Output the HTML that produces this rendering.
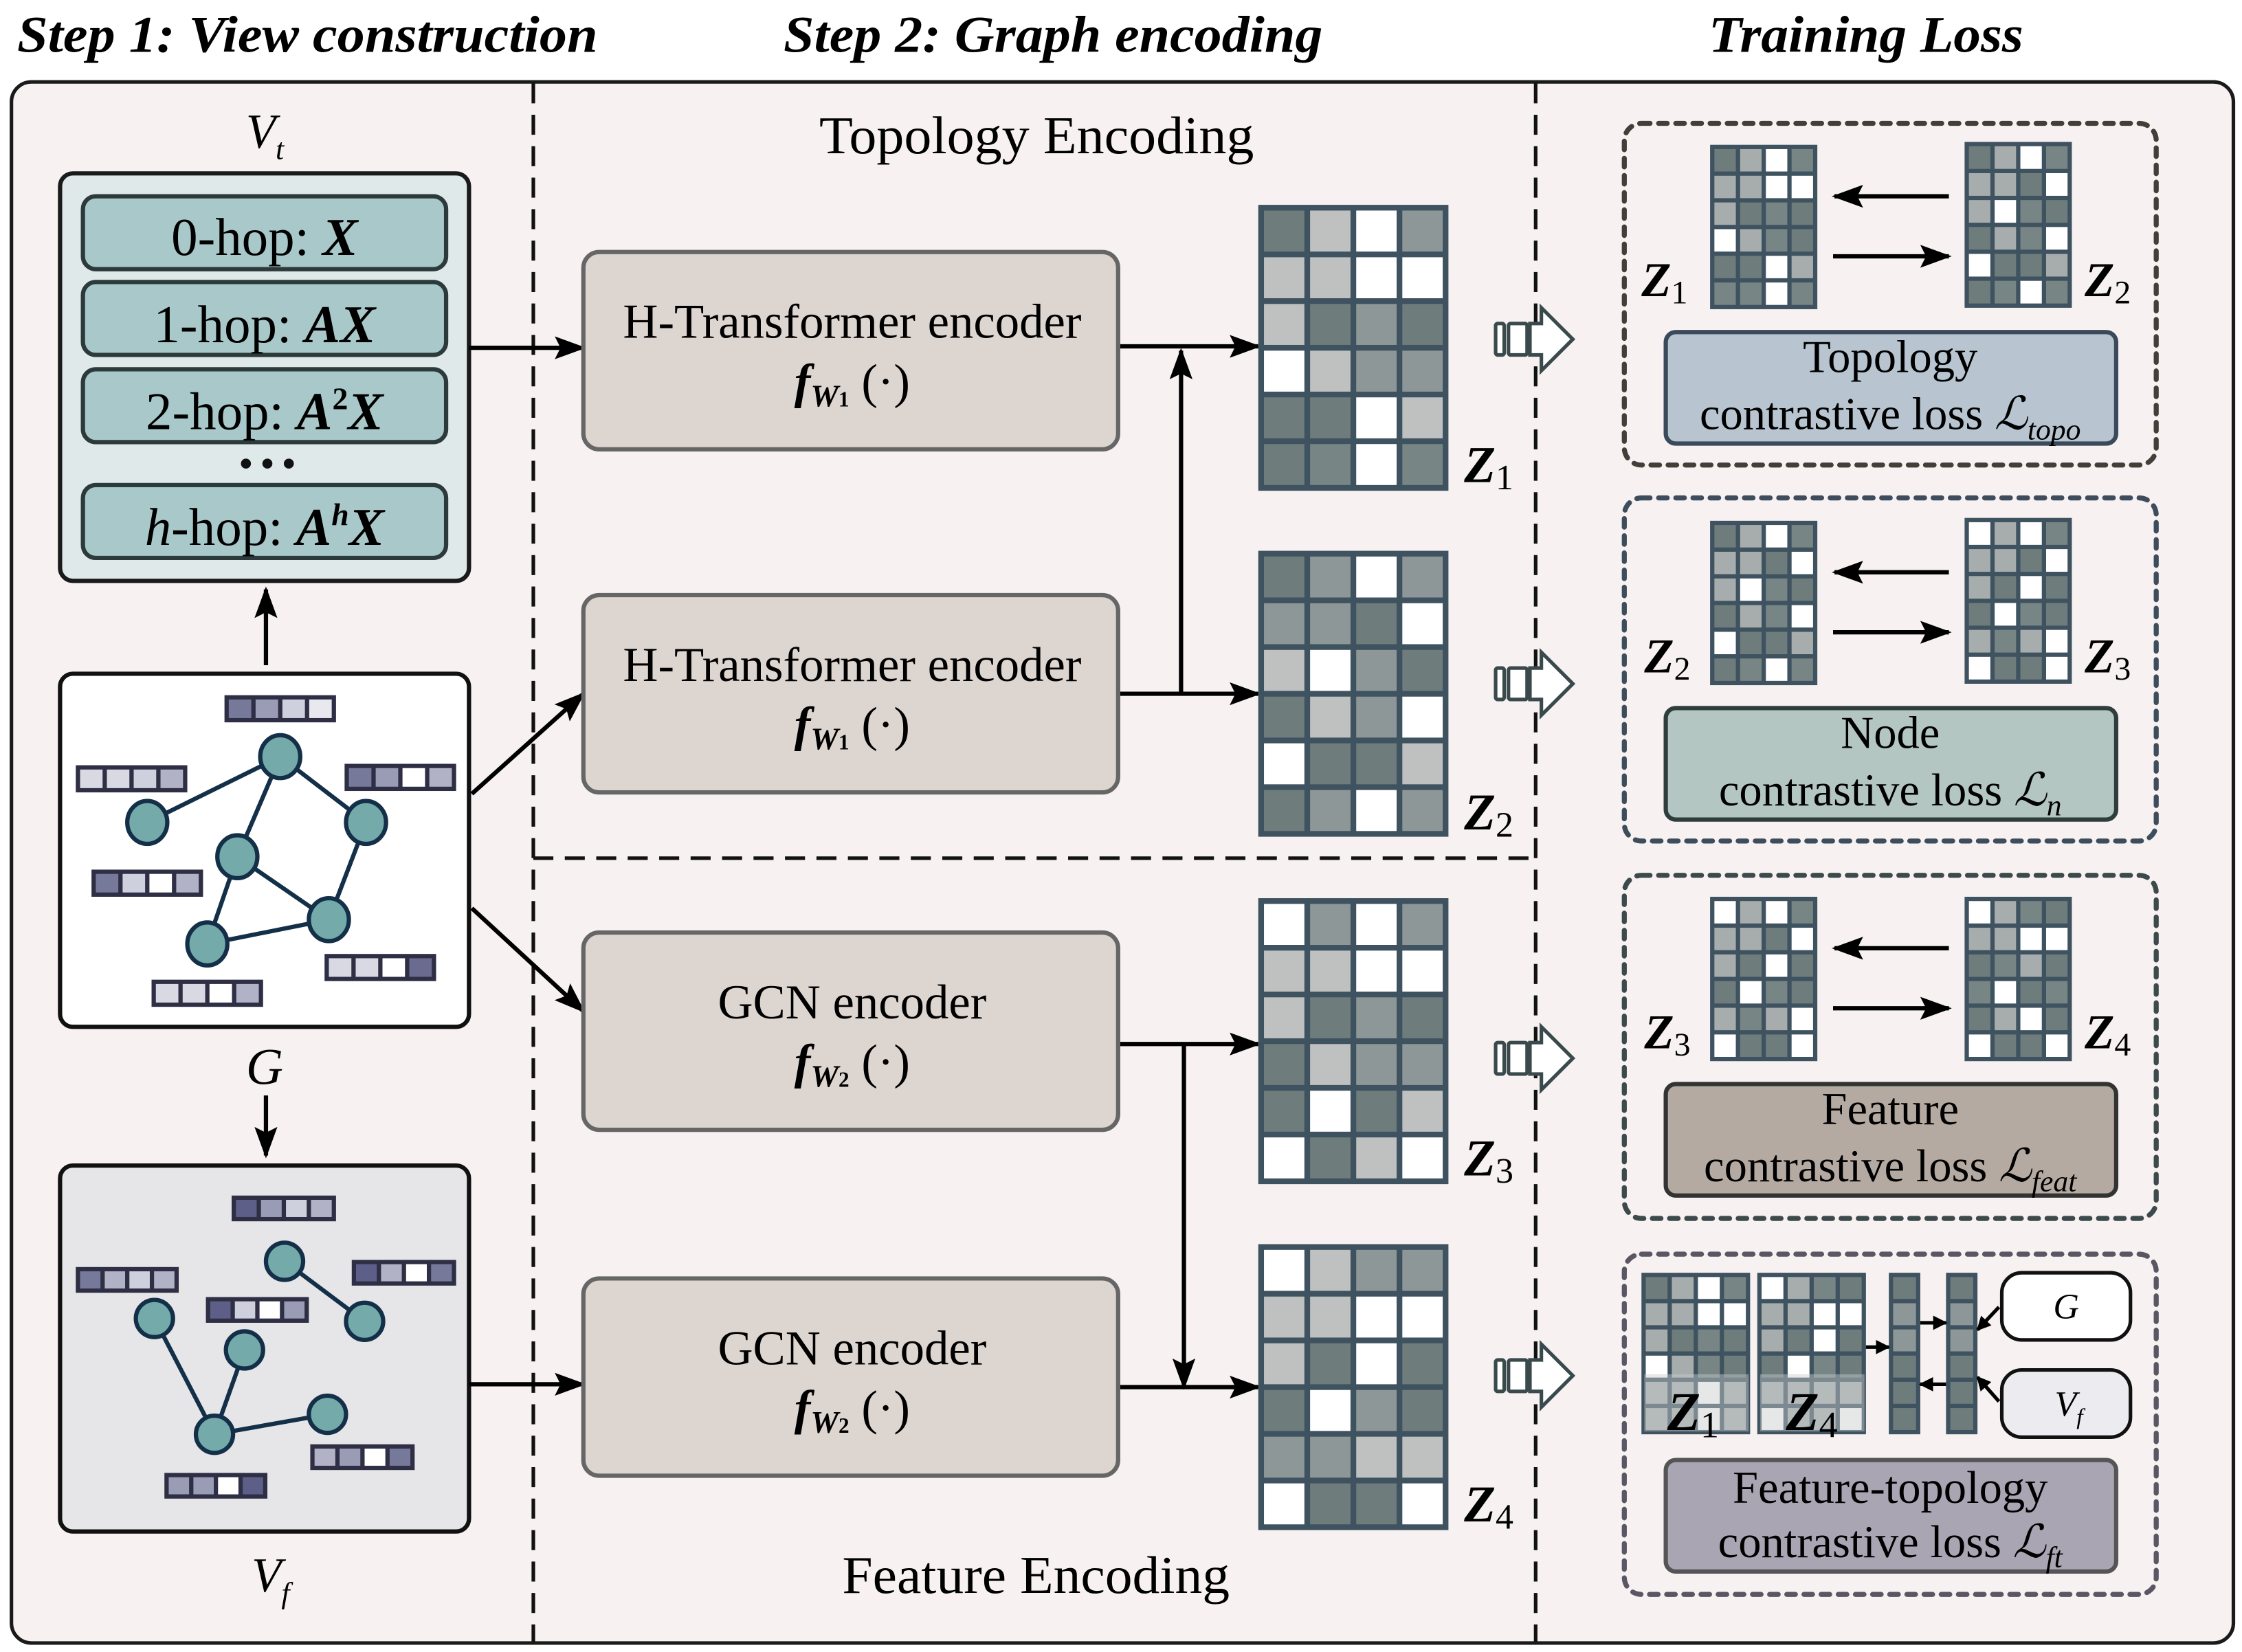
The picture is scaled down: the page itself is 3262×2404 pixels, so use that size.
<!DOCTYPE html>
<html><head><meta charset="utf-8">
<style>
html,body{margin:0;padding:0;background:#fff;}
svg{display:block;}
text{font-family:"Liberation Serif",serif;}
</style></head>
<body>
<svg id="s" width="3262" height="2404" viewBox="0 0 1568 1155" xmlns="http://www.w3.org/2000/svg">
<defs>
<marker id="ah" markerWidth="10" markerHeight="10" refX="9" refY="5" orient="auto" markerUnits="userSpaceOnUse" viewBox="0 0 10 10">
<path d="M0,0 L10,5 L0,10 z" fill="#000"/>
</marker>
<marker id="ahb" markerWidth="22" markerHeight="16" refX="20" refY="8" orient="auto" markerUnits="userSpaceOnUse" viewBox="0 0 22 16">
<path d="M0,0 L22,8 L0,16 L4,8 z" fill="#000"/>
</marker>
</defs>
<rect width="1568" height="1155" fill="#fff"/>
<g font-weight="bold" font-style="italic" font-size="36" fill="#000">
<text x="12" y="36" textLength="406" lengthAdjust="spacingAndGlyphs">Step 1: View construction</text>
<text x="548" y="36" textLength="377" lengthAdjust="spacingAndGlyphs">Step 2: Graph encoding</text>
<text x="1195" y="36" textLength="220" lengthAdjust="spacingAndGlyphs">Training Loss</text>
</g>
<rect x="8" y="57" width="1554" height="1092" rx="14" fill="#f7f1f1" stroke="#1a1a1a" stroke-width="2.5"/>
<g stroke="#111" stroke-width="2.5" stroke-dasharray="14,8">
<line x1="373" y1="58" x2="373" y2="1148"/>
<line x1="1074" y1="58" x2="1074" y2="1148"/>
<line x1="373" y1="600" x2="1074" y2="600"/>
</g>
<text x="573" y="107" font-size="37" textLength="304" lengthAdjust="spacingAndGlyphs">Topology Encoding</text>
<text x="589" y="1114" font-size="37" textLength="271" lengthAdjust="spacingAndGlyphs">Feature Encoding</text>

<text x="172" y="103" font-size="34" font-style="italic">V<tspan font-size="21" dy="8">t</tspan></text>
<rect x="42" y="121" width="286" height="285" rx="9" fill="#dfe9ea" stroke="#1a1a1a" stroke-width="3"/>
<g fill="#a9c8c9" stroke="#2c3a3c" stroke-width="3">
<rect x="58" y="137" width="254" height="51" rx="9"/>
<rect x="58" y="197" width="254" height="51" rx="9"/>
<rect x="58" y="258" width="254" height="51" rx="9"/>
<rect x="58" y="339" width="254" height="51" rx="9"/>
</g>
<g font-size="37" text-anchor="middle">
<text x="185" y="178">0-hop: <tspan font-weight="bold" font-style="italic">X</tspan></text>
<text x="185" y="239">1-hop: <tspan font-weight="bold" font-style="italic">AX</tspan></text>
<text x="185" y="300">2-hop: <tspan font-weight="bold" font-style="italic">A</tspan><tspan font-weight="bold" font-size="22" dy="-14">2</tspan><tspan font-weight="bold" font-style="italic" dy="14">X</tspan></text>
<text x="185" y="381"><tspan font-style="italic">h</tspan>-hop: <tspan font-weight="bold" font-style="italic">A</tspan><tspan font-weight="bold" font-style="italic" font-size="22" dy="-14">h</tspan><tspan font-weight="bold" font-style="italic" dy="14">X</tspan></text>
</g>
<g fill="#111"><circle cx="172" cy="324" r="3.5"/><circle cx="187" cy="324" r="3.5"/><circle cx="202" cy="324" r="3.5"/></g>

<rect x="42" y="471" width="286" height="247" rx="9" fill="#fff" stroke="#111" stroke-width="3"/>
<g stroke="#143049" stroke-width="3">
<line x1="196" y1="529" x2="103" y2="575"/><line x1="196" y1="529" x2="166" y2="599"/>
<line x1="196" y1="529" x2="256" y2="575"/><line x1="256" y1="575" x2="230" y2="643"/>
<line x1="166" y1="599" x2="230" y2="643"/><line x1="166" y1="599" x2="145" y2="660"/>
<line x1="145" y1="660" x2="230" y2="643"/>
</g>
<g fill="#75aaaa" stroke="#143049" stroke-width="3">
<ellipse cx="196" cy="529" rx="14" ry="15"/><ellipse cx="103" cy="575" rx="14" ry="15"/>
<ellipse cx="256" cy="575" rx="14" ry="15"/><ellipse cx="166" cy="599" rx="14" ry="15"/>
<ellipse cx="230" cy="643" rx="14" ry="15"/><ellipse cx="145" cy="660" rx="14" ry="15"/>
</g>
<text x="172" y="758" font-size="36" font-style="italic">G</text>

<rect x="42" y="815" width="286" height="256" rx="9" fill="#e6e6e8" stroke="#111" stroke-width="3"/>
<g stroke="#143049" stroke-width="3">
<line x1="199" y1="882" x2="255" y2="924"/><line x1="108" y1="922" x2="150" y2="1003"/>
<line x1="171" y1="944" x2="150" y2="1003"/><line x1="150" y1="1003" x2="229" y2="989"/>
</g>
<g fill="#75aaaa" stroke="#143049" stroke-width="3">
<ellipse cx="199" cy="882" rx="13" ry="13"/><ellipse cx="108" cy="922" rx="13" ry="13"/>
<ellipse cx="255" cy="924" rx="13" ry="13"/><ellipse cx="171" cy="944" rx="13" ry="13"/>
<ellipse cx="150" cy="1003" rx="13" ry="13"/><ellipse cx="229" cy="989" rx="13" ry="13"/>
</g>
<text x="176" y="1113" font-size="34" font-style="italic">V<tspan font-size="21" dy="8">f</tspan></text>

<g id="bars"></g>

<g stroke="#000" stroke-width="3" fill="none">
<line x1="186" y1="465" x2="186" y2="412" marker-end="url(#ahb)"/>
<line x1="186" y1="766" x2="186" y2="808" marker-end="url(#ahb)"/>
<line x1="328" y1="243" x2="408" y2="243" marker-end="url(#ahb)"/>
<line x1="330" y1="555" x2="408" y2="485" marker-end="url(#ahb)"/>
<line x1="330" y1="635" x2="408" y2="707" marker-end="url(#ahb)"/>
<line x1="328" y1="968" x2="408" y2="968" marker-end="url(#ahb)"/>
<line x1="782" y1="242" x2="880" y2="242" marker-end="url(#ahb)"/>
<line x1="782" y1="485" x2="880" y2="485" marker-end="url(#ahb)"/>
<line x1="826" y1="485" x2="826" y2="245" marker-end="url(#ahb)"/>
<line x1="782" y1="730" x2="880" y2="730" marker-end="url(#ahb)"/>
<line x1="828" y1="730" x2="828" y2="970" marker-end="url(#ahb)"/>
<line x1="782" y1="970" x2="880" y2="970" marker-end="url(#ahb)"/>
</g>

<g fill="#ddd5d0" stroke="#666" stroke-width="3">
<rect x="408" y="176" width="374" height="138" rx="11"/>
<rect x="408" y="416" width="374" height="138" rx="11"/>
<rect x="408" y="652" width="374" height="138" rx="11"/>
<rect x="408" y="894" width="374" height="138" rx="11"/>
</g>
<g font-size="34" text-anchor="middle">
<text x="596" y="236">H-Transformer encoder</text>
<text x="596" y="278"><tspan font-weight="bold" font-style="italic">f</tspan><tspan font-weight="bold" font-style="italic" font-size="22" dy="6">W</tspan><tspan font-size="15" font-weight="bold">1</tspan><tspan dy="-6"> (·)</tspan></text>
<text x="596" y="476">H-Transformer encoder</text>
<text x="596" y="518"><tspan font-weight="bold" font-style="italic">f</tspan><tspan font-weight="bold" font-style="italic" font-size="22" dy="6">W</tspan><tspan font-size="15" font-weight="bold">1</tspan><tspan dy="-6"> (·)</tspan></text>
<text x="596" y="712">GCN encoder</text>
<text x="596" y="754"><tspan font-weight="bold" font-style="italic">f</tspan><tspan font-weight="bold" font-style="italic" font-size="22" dy="6">W</tspan><tspan font-size="15" font-weight="bold">2</tspan><tspan dy="-6"> (·)</tspan></text>
<text x="596" y="954">GCN encoder</text>
<text x="596" y="996"><tspan font-weight="bold" font-style="italic">f</tspan><tspan font-weight="bold" font-style="italic" font-size="22" dy="6">W</tspan><tspan font-size="15" font-weight="bold">2</tspan><tspan dy="-6"> (·)</tspan></text>
</g>

<g id="grids"></g>

<g font-size="36">
<text x="1024" y="337"><tspan font-weight="bold" font-style="italic">Z</tspan><tspan font-size="25" dy="5">1</tspan></text>
<text x="1024" y="580"><tspan font-weight="bold" font-style="italic">Z</tspan><tspan font-size="25" dy="5">2</tspan></text>
<text x="1024" y="822"><tspan font-weight="bold" font-style="italic">Z</tspan><tspan font-size="25" dy="5">3</tspan></text>
<text x="1024" y="1064"><tspan font-weight="bold" font-style="italic">Z</tspan><tspan font-size="25" dy="5">4</tspan></text>
</g>

<g id="hollow" fill="#fff" stroke="#3a4a4c" stroke-width="2.5"></g>

<g fill="none" stroke="#4a4550" stroke-width="3.5" stroke-dasharray="6,6" stroke-linecap="round">
<rect x="1136" y="86" width="372" height="239" rx="12" stroke="#443d38"/>
<rect x="1136" y="348" width="372" height="240" rx="12" stroke="#3e4d5c"/>
<rect x="1136" y="612" width="372" height="240" rx="12" stroke="#3c4a4c"/>
<rect x="1136" y="877" width="372" height="238" rx="12" stroke="#5a5664"/>
</g>
<g stroke="#3a4a5a" stroke-width="3">
<rect x="1165" y="232" width="315" height="78" rx="7" fill="#b8c5d0"/>
<rect x="1165" y="495" width="315" height="78" rx="7" fill="#b4c6c2" stroke="#2f3d3c"/>
<rect x="1165" y="758" width="315" height="78" rx="7" fill="#b5aaa2" stroke="#333"/>
<rect x="1165" y="1021" width="315" height="78" rx="7" fill="#aaa5b3" stroke="#555"/>
</g>
<g font-size="32" text-anchor="middle">
<text x="1322" y="260">Topology</text>
<text x="1322" y="300">contrastive loss <tspan font-style="italic">ℒ</tspan><tspan font-style="italic" font-size="21" dy="7">topo</tspan></text>
<text x="1322" y="523">Node</text>
<text x="1322" y="563">contrastive loss <tspan font-style="italic">ℒ</tspan><tspan font-style="italic" font-size="21" dy="7">n</tspan></text>
<text x="1322" y="786">Feature</text>
<text x="1322" y="826">contrastive loss <tspan font-style="italic">ℒ</tspan><tspan font-style="italic" font-size="21" dy="7">feat</tspan></text>
<text x="1322" y="1051">Feature-topology</text>
<text x="1322" y="1089">contrastive loss <tspan font-style="italic">ℒ</tspan><tspan font-style="italic" font-size="21" dy="7">ft</tspan></text>
</g>
<g font-size="34">
<text x="1148" y="207"><tspan font-weight="bold" font-style="italic">Z</tspan><tspan font-size="23" dy="5">1</tspan></text>
<text x="1458" y="207"><tspan font-weight="bold" font-style="italic">Z</tspan><tspan font-size="23" dy="5">2</tspan></text>
<text x="1150" y="470"><tspan font-weight="bold" font-style="italic">Z</tspan><tspan font-size="23" dy="5">2</tspan></text>
<text x="1458" y="470"><tspan font-weight="bold" font-style="italic">Z</tspan><tspan font-size="23" dy="5">3</tspan></text>
<text x="1150" y="733"><tspan font-weight="bold" font-style="italic">Z</tspan><tspan font-size="23" dy="5">3</tspan></text>
<text x="1458" y="733"><tspan font-weight="bold" font-style="italic">Z</tspan><tspan font-size="23" dy="5">4</tspan></text>
</g>
<g stroke="#000" stroke-width="3" fill="none">
<line x1="1363" y1="137" x2="1283" y2="137" marker-end="url(#ahb)"/>
<line x1="1282" y1="179" x2="1363" y2="179" marker-end="url(#ahb)"/>
<line x1="1363" y1="400" x2="1283" y2="400" marker-end="url(#ahb)"/>
<line x1="1282" y1="442" x2="1363" y2="442" marker-end="url(#ahb)"/>
<line x1="1363" y1="663" x2="1283" y2="663" marker-end="url(#ahb)"/>
<line x1="1282" y1="705" x2="1363" y2="705" marker-end="url(#ahb)"/>
</g>
<rect x="1400" y="890" width="90" height="47" rx="14" fill="#fff" stroke="#111" stroke-width="2.5"/>
<rect x="1400" y="958" width="90" height="47" rx="14" fill="#ebebf0" stroke="#111" stroke-width="2.5"/>
<text x="1445" y="922" font-size="25" font-style="italic" text-anchor="middle">G</text>
<text x="1437" y="990" font-size="25" font-style="italic">V<tspan font-size="16" dy="6">f</tspan></text>
<g stroke="#000" stroke-width="2.5" fill="none">
<line x1="1305" y1="942" x2="1321" y2="942" marker-end="url(#ah)"/>
<line x1="1343" y1="925" x2="1361" y2="925" marker-end="url(#ah)"/>
<line x1="1361" y1="968" x2="1343" y2="968" marker-end="url(#ah)"/>
<line x1="1398" y1="914" x2="1383" y2="930" marker-end="url(#ah)"/>
<line x1="1398" y1="980" x2="1383" y2="963" marker-end="url(#ah)"/>
</g>
<g id="overlay"></g>
<g font-size="38">
<text x="1166" y="1000"><tspan font-weight="bold" font-style="italic">Z</tspan><tspan font-size="26" dy="5">1</tspan></text>
<text x="1249" y="1000"><tspan font-weight="bold" font-style="italic">Z</tspan><tspan font-size="26" dy="5">4</tspan></text>
</g>
</svg>
<script>
(function(){
var NS="http://www.w3.org/2000/svg";
function el(p,t,a){var e=document.createElementNS(NS,t);for(var k in a)e.setAttribute(k,a[k]);p.appendChild(e);return e;}
var C={D:"#6e7c7c",d:"#788585",M:"#8e9797",L:"#bec1c0",l:"#a7adad",W:"#ffffff"};
function grid(p,x,y,w,h,rows,bw){
  var nr=rows.length,nc=rows[0].length;
  el(p,"rect",{x:x,y:y,width:w,height:h,fill:"#3f5260"});
  var cw=(w-bw)/nc,ch=(h-bw)/nr;
  for(var r=0;r<nr;r++)for(var c=0;c<nc;c++){
    el(p,"rect",{x:x+bw+c*cw,y:y+bw+r*ch,width:cw-bw,height:ch-bw,fill:C[rows[r][c]]});
  }
}
var g=document.getElementById("grids");
var Z1=["DLWM","LLWW","LDMD","WLMM","DDWL","DdWd"];
var Z2=["DMWM","MMDW","LWMD","DLMW","WDDL","DMWM"];
var Z3=["WMWM","LLWW","LDMD","DLMM","DWDL","WDLW"];
var Z4=["WLMM","LLWW","LDWD","DWMD","MMLL","WDDW"];
grid(g,880,143,133,200,Z1,4);grid(g,880,385,133,200,Z2,4);
grid(g,880,628,133,200,Z3,4);grid(g,880,870,133,200,Z4,4);
var s1=["DlWd","llWW","lDdD","WldD","DDWl","ddWd"];
var s2=["DlWd","llDW","lWdD","DldW","WDDl","DdWd"];
var s3=["WlWd","llDW","lDWD","DWdD","ldlW","WDDW"];
var s4=["WldD","llWW","DdlD","dWDd","DlWD","WDDW"];
grid(g,1196,101,75,115,s1,3);grid(g,1374,99,75,116,s2,3);
grid(g,1196,364,75,115,s2,3);grid(g,1374,362,75,116,s3,3);
grid(g,1196,627,75,115,s3,3);grid(g,1374,627,75,115,s4,3);
grid(g,1148,890,76,113,["DlWd","llWW","lDdD","WldD","llWl","llWl"],3);
grid(g,1229,890,76,113,["WldD","llWW","lDWD","DWdD","llll","WllW"],3);
grid(g,1321,890,22,113,["D","M","M","D","D","D"],3);
grid(g,1361,890,22,113,["D","M","M","D","D","D"],3);
var o=document.getElementById("overlay");
el(o,"rect",{x:1150,y:961,width:73,height:40,fill:"#c8cccc",opacity:0.45});
el(o,"rect",{x:1231,y:961,width:73,height:40,fill:"#c8cccc",opacity:0.45});
var B={a:"#77799a",b:"#9a9bb5",c:"#cfd0de",e:"#e8e8ee",f:"#d9d9e4",W:"#ffffff",h:"#b1b2c6",n:"#6a6b8e",k:"#5e5f88"};
var bars=document.getElementById("bars");
function bar(x,y,w,h,cs){
  el(bars,"rect",{x:x,y:y,width:w,height:h,fill:"#2e2e44"});
  var cw=(w-3)/4;
  for(var i=0;i<4;i++)el(bars,"rect",{x:x+3+i*cw,y:y+3,width:cw-3,height:h-6,fill:B[cs[i]]});
}
bar(157,486,78,19,"abce");bar(53,535,78,19,"ffch");bar(241,534,78,19,"abWh");
bar(64,608,78,19,"acWh");bar(227,667,78,19,"ffWn");bar(106,685,78,19,"ffWh");
bar(162,836,73,18,"kbch");bar(53,886,72,18,"ahch");bar(246,881,73,18,"khWa");
bar(144,907,72,18,"kcWb");bar(217,1010,73,18,"hbWa");bar(115,1030,72,18,"bbWk");
var ho=document.getElementById("hollow");
[237,478,740,962].forEach(function(cy){
  el(ho,"rect",{x:1046,y:cy-11,width:6,height:22,rx:1.5});
  el(ho,"rect",{x:1055,y:cy-11,width:13,height:22,rx:1.5});
  el(ho,"path",{d:"M1070,"+(cy-11)+" L1078,"+(cy-11)+" L1078,"+(cy-22)+" L1100,"+cy+" L1078,"+(cy+22)+" L1078,"+(cy+11)+" L1070,"+(cy+11)+" Z"});
});
})();
</script>
</body></html>
